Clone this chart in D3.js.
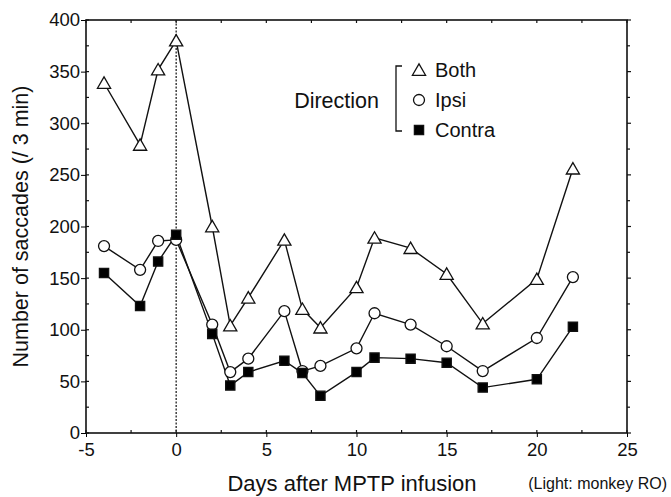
<!DOCTYPE html>
<html>
<head>
<meta charset="utf-8">
<script src="https://cdn.jsdelivr.net/npm/d3@7"></script>
<style>
  body { margin: 0; background: #fff; }
  svg text { font-family: "Liberation Sans", Arial, Helvetica, sans-serif; fill: #111; }
</style>
</head>
<body>
<svg id="chart" width="671" height="497"></svg>
<script>
// Days after MPTP infusion
const days = [-4, -2, -1, 0, 2, 3, 4, 6, 7, 8, 10, 11, 13, 15, 17, 20, 22];

// Number of saccades (/ 3 min) per direction
const both   = [339, 279, 352, 380, 200, 104, 131, 187, 120, 102, 141, 189, 179, 154, 106, 149, 256];
const ipsi   = [181, 158, 186, 187, 105,  59,  72, 118,  60,  65,  82, 116, 105,  84,  60,  92, 151];
const contra = [155, 123, 166, 192,  96,  46,  59,  70,  58,  36,  59,  73,  72,  68,  44,  52, 103];

const xTicks = [-5, 0, 5, 10, 15, 20, 25];
const yTicks = [0, 50, 100, 150, 200, 250, 300, 350, 400];

const legendItems = [
  { name: "Both", shape: "triangle" },
  { name: "Ipsi", shape: "circle" },
  { name: "Contra", shape: "square" }
];

const svg = d3.select("#chart");
const margin = { left: 86, right: 44, top: 20, bottom: 64 };
const W = 671, H = 497;

const x = d3.scaleLinear().domain([-5, 25]).range([margin.left, W - margin.right]);
const y = d3.scaleLinear().domain([0, 400]).range([H - margin.bottom, margin.top]);

const x0 = x.range()[0], x1 = x.range()[1];
const y0 = y.range()[0], y1 = y.range()[1];

// frame
svg.append("rect")
  .attr("x", x0).attr("y", y1)
  .attr("width", x1 - x0).attr("height", y0 - y1)
  .attr("fill", "none").attr("stroke", "#111").attr("stroke-width", 1.6);

// bottom axis (plain hyphen for negatives, like the original)
const xAxis = svg.append("g").attr("transform", `translate(0,${y0})`)
  .call(d3.axisBottom(x).tickValues(xTicks).tickSize(4).tickPadding(5).tickFormat(d => String(d)));
xAxis.select(".domain").remove();
xAxis.selectAll("text").attr("font-size", 18.5).attr("dy", "0.75em");

// y axis
const yAxis = svg.append("g").attr("transform", `translate(${x0},0)`)
  .call(d3.axisLeft(y).tickValues(yTicks).tickSize(5).tickPadding(1));
yAxis.select(".domain").remove();
yAxis.selectAll("text").attr("font-size", 18.5);

// minor ticks (inward)
const minorX = d3.range(-5, 25.01, 2.5);
const minorY = d3.range(0, 400.01, 25);
const tickG = svg.append("g").attr("stroke", "#111").attr("stroke-width", 1.2);
minorX.forEach(v => {
  tickG.append("line").attr("x1", x(v)).attr("x2", x(v)).attr("y1", y0).attr("y2", y0 - 3);
  tickG.append("line").attr("x1", x(v)).attr("x2", x(v)).attr("y1", y1).attr("y2", y1 + 3);
});
minorY.forEach(v => {
  tickG.append("line").attr("x1", x0).attr("x2", x0 + 3).attr("y1", y(v)).attr("y2", y(v));
  tickG.append("line").attr("x1", x1).attr("x2", x1 + (v % 50 === 0 ? 4 : 3)).attr("y1", y(v)).attr("y2", y(v));
});

// dotted line at day 0
svg.append("line")
  .attr("x1", x(0)).attr("x2", x(0)).attr("y1", y1).attr("y2", y0)
  .attr("stroke", "#222").attr("stroke-width", 1.3).attr("stroke-dasharray", "2,1.5");

const line = d3.line().x((d, i) => x(days[i])).y(d => y(d));

const symbols = {
  triangle: d3.symbol().type(d3.symbolTriangle).size(75),
  circle: d3.symbol().type(d3.symbolCircle).size(95),
  square: d3.symbol().type(d3.symbolSquare).size(85)
};

const series = [
  { values: both, shape: "triangle", fill: "#fff" },
  { values: ipsi, shape: "circle", fill: "#fff" },
  { values: contra, shape: "square", fill: "#000" }
];

series.forEach(s => {
  svg.append("path").datum(s.values)
    .attr("d", line).attr("fill", "none")
    .attr("stroke", "#111").attr("stroke-width", 1.4);
});
series.forEach(s => {
  svg.append("g").selectAll("path").data(s.values).enter().append("path")
    .attr("d", symbols[s.shape])
    .attr("transform", (d, i) => `translate(${x(days[i])},${y(d) + (s.shape === "triangle" ? 1.5 : 0)})`)
    .attr("fill", s.fill).attr("stroke", "#111").attr("stroke-width", 1.3);
});

// axis titles
svg.append("text")
  .attr("transform", `translate(28,${(y0 + y1) / 2}) rotate(-90)`)
  .attr("text-anchor", "middle").attr("font-size", 21.5)
  .text("Number of saccades (/ 3 min)");
svg.append("text")
  .attr("x", 352).attr("y", 491).attr("text-anchor", "middle").attr("font-size", 22)
  .text("Days after MPTP infusion");
svg.append("text")
  .attr("x", 667).attr("y", 489).attr("text-anchor", "end").attr("font-size", 16)
  .text("(Light: monkey RO)");

// legend
const lg = svg.append("g");
lg.append("text").attr("x", 379).attr("y", 108).attr("text-anchor", "end")
  .attr("font-size", 21.5).text("Direction");
lg.append("path").attr("d", "M402,66 H396 V131 H402")
  .attr("fill", "none").attr("stroke", "#111").attr("stroke-width", 1.3);
legendItems.forEach((it, i) => {
  const cy = 70 + i * 30;
  const s = series.find(d => d.shape === it.shape);
  lg.append("path").attr("d", symbols[it.shape])
    .attr("transform", `translate(419,${cy + (it.shape === "triangle" ? 1.5 : 0)})`)
    .attr("fill", s.fill).attr("stroke", "#111").attr("stroke-width", 1.3);
  lg.append("text").attr("x", 435).attr("y", cy + 7).attr("font-size", 20).text(it.name);
});
</script>
</body>
</html>
